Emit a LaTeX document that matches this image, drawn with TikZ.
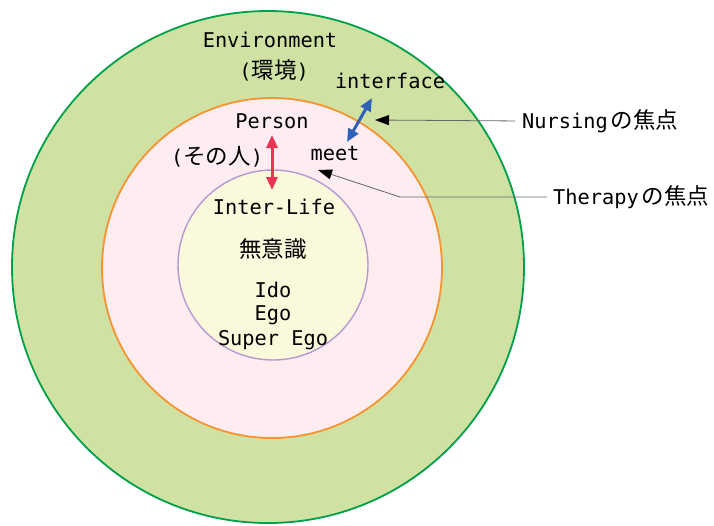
\documentclass[tikz,border=0pt]{standalone}
\usepackage{fontspec}
\setmainfont{DejaVu Sans Mono}
\newfontfamily\jp{Noto Sans CJK JP}
\usetikzlibrary{positioning}
\usetikzlibrary{arrows.meta}
\definecolor{envgreen}{RGB}{207,226,163}
\definecolor{envline}{RGB}{0,160,72}
\definecolor{personpink}{RGB}{253,236,240}
\definecolor{personline}{RGB}{247,148,48}
\definecolor{lifeyellow}{RGB}{250,249,220}
\definecolor{lifeline}{RGB}{182,152,210}
\definecolor{meetred}{RGB}{234,52,82}
\definecolor{faceblue}{RGB}{48,96,186}
\newcommand{\jpt}[1]{{\fontsize{22.5}{24}\selectfont\jp #1}}
\tikzset{
	ring/.style={draw, circle, inner sep=0pt, line width=1.8pt},
	lbl/.style={inner sep=0pt, text height=14.5pt, text depth=0pt, font=\fontsize{20.3}{22}\selectfont},
	% focus labels on the right
	focus/.style={lbl, anchor=west},
}

\begin{document}
\begin{tikzpicture}[x=1pt, y=-1pt]
			\useasboundingbox (0,0) rectangle (714,525);
			
			\node (envcircle) [ring, draw=envline, fill=envgreen, minimum size=512pt] at (268,267) {};
			\node (personcircle) [ring, draw=personline, fill=personpink, minimum size=340pt] at (272,268) {};
			\node (lifecircle) [ring, draw=lifeline, fill=lifeyellow, minimum size=190pt, line width=1.4pt] at (273,265) {};
			
			\node (envlbl) [lbl] at (270,40) {Environment};
			\node (kankyo) [lbl, below of=envlbl, node distance=31pt, xshift=4pt] {(\jpt{環境})};
			\node (interface) [lbl] at (390,81) {interface};
			
			\node (personlbl) [lbl] at (272,121) {Person};
			\node (sonohito) [lbl] at (217,157) {(\jpt{その人})};
			\node (meet) [lbl] at (335,153) {meet};
			
			\node (interlife) [lbl] at (274,207) {Inter-Life};
			\node (muishiki) [lbl, below of=interlife, node distance=43pt, xshift=-1pt] {\jpt{無意識}};
			\node (ido) [lbl, below of=muishiki, node distance=40pt] {Ido};
			\node (ego) [lbl, below of=ido, node distance=23pt] {Ego};
			\node (superego) [lbl, below of=ego, node distance=25pt] {Super Ego};
			
			\node (nursing) [focus] at (522,121) {Nursing\hspace{3pt}\jpt{の焦点}};
			\node (therapy) [focus] at (553,197) {Therapy\hspace{3pt}\jpt{の焦点}};
			
			\coordinate (redtop) at (272,135);
			\coordinate (redbot) at (272,190);
			\coordinate (bluetop) at (372,98);
			\coordinate (bluebot) at (347,142);
			\coordinate (nursetip) at (375,120);
			\coordinate (therapybend) at (400,197);
			\coordinate (therapytip) at (318,170);
			
			\begin{scope}[line width=3pt, <->, >={Triangle[length=13pt, width=11pt]}]
				\draw [meetred] (redtop) -- (redbot);
				\draw [faceblue] (bluetop) -- (bluebot);
			\end{scope}
			
			\begin{scope}[line width=0.8pt, black!60, ->, >={Triangle[length=14pt, width=10pt, black]}]
				\draw [shorten <=7pt] (nursing.west) -- (nursetip);
				\draw [shorten <=6pt] (therapy.west) -- (therapybend) -- (therapytip);
			\end{scope}
		\end{tikzpicture}
\end{document}
